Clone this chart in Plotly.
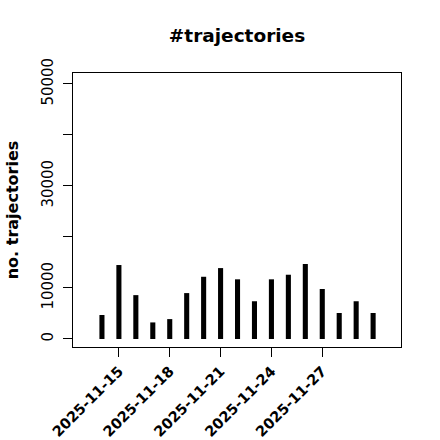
import plotly.graph_objects as go
import pandas as pd

dates = pd.date_range("2025-11-14", "2025-11-30", freq="D").strftime("%Y-%m-%d").tolist()
counts = [4700, 14500, 8600, 3250, 3900, 9000, 12200, 13900, 11700, 7400,
          11700, 12600, 14700, 9800, 5100, 7400, 5100]

x_tick_vals = ["2025-11-15", "2025-11-18", "2025-11-21", "2025-11-24", "2025-11-27"]
y_tick_vals = [0, 10000, 20000, 30000, 40000, 50000]
y_tick_text = ["0", "10000", "", "30000", "", "50000"]

DAY_MS = 24 * 3600 * 1000

fig = go.Figure()
fig.add_trace(go.Bar(
    x=dates, y=counts,
    width=[0.3 * DAY_MS] * len(dates),
    marker=dict(color="black", line=dict(width=0)),
    showlegend=False,
))

fig.update_layout(
    width=440, height=440,
    margin=dict(l=73, r=39, t=73, b=93, autoexpand=False),
    paper_bgcolor="white", plot_bgcolor="white",
    font=dict(family="DejaVu Sans", color="black"),
    title=dict(text="#trajectories", x=0.5, xref="paper", y=1 - 36 / 440,
               yref="container", yanchor="middle", xanchor="center",
               font=dict(size=18.5, weight="bold", family="DejaVu Sans")),
    xaxis=dict(
        type="date", automargin=False,
        range=["2025-11-12 07:00", "2025-12-01 15:30"],
        tickvals=x_tick_vals, ticktext=x_tick_vals,
        tickangle=-45,
        tickfont=dict(size=14.5, weight="bold", family="DejaVu Sans"),
        ticks="outside", ticklen=9, tickwidth=1, tickcolor="black",
        showgrid=False, zeroline=False,
        showline=True, linecolor="black", linewidth=1, mirror=True,
    ),
    yaxis=dict(
        automargin=False,
        range=[-1570, 52150],
        tickvals=y_tick_vals, ticktext=y_tick_text,
        tickangle=-90,
        tickfont=dict(size=15, family="DejaVu Sans"),
        ticks="outside", ticklen=9, tickwidth=1, tickcolor="black",
        ticklabelstandoff=4,
        showgrid=False, zeroline=False,
        showline=True, linecolor="black", linewidth=1, mirror=True,
        title=dict(text="no. trajectories", standoff=16,
                   font=dict(size=16, weight="bold", family="DejaVu Sans")),
    ),
)

fig.write_html("out.html", config={"displayModeBar": False},
               post_script="document.body.style.margin='0';document.body.style.padding='0';")
